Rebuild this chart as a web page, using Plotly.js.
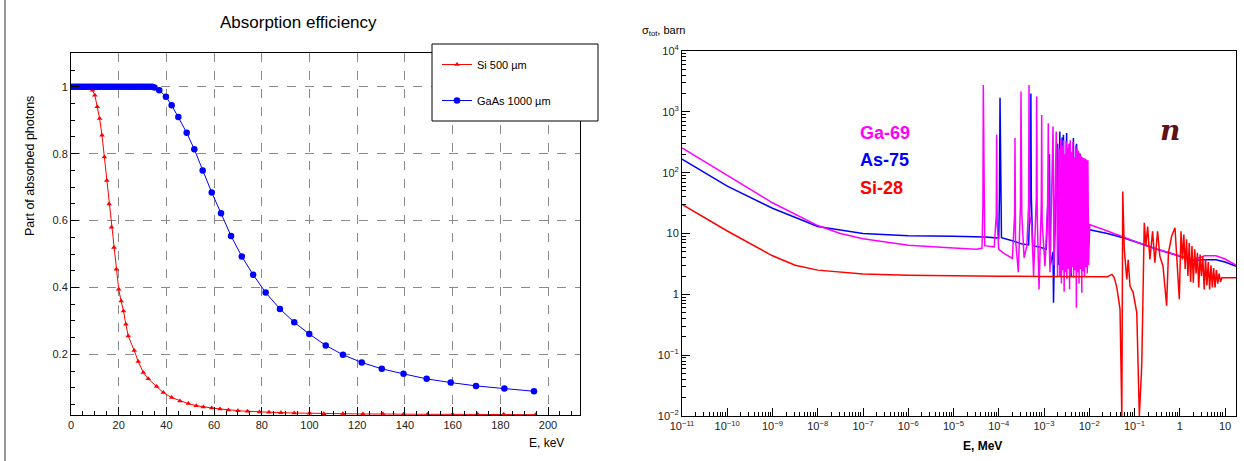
<!DOCTYPE html>
<html><head><meta charset="utf-8">
<script src="https://cdn.plot.ly/plotly-3.0.1.min.js"></script>
<style>html,body{margin:0;padding:0;background:#fff}#chart{width:1244px;height:461px}</style>
</head><body><div id="chart"></div>
<script>
// ---------- Left chart: absorption efficiency ----------
const siLabel = 'Si 500 µm';
const gaasLabel = 'GaAs 1000 µm';
const siE = [1,2,3,4,5,6,7,8,9,10,11,12,13,14,15,16,17,18,19,20,21,22,23,24,26.5,28.2,30.3,32.4,35.9,38.7,42.2,45.7,49.2,52.5,55.5,59,62.5,66,70,74,79,83,88,93.6,100,106,114,122.4,130.8,139.4,149.5,160,170.5,181.4,194.8];
const siFrac = [1,1,1,1,1,1,1,1,0.99,0.975,0.94,0.905,0.855,0.79,0.72,0.65,0.58,0.52,0.455,0.395,0.36,0.33,0.29,0.255,0.212,0.179,0.146,0.127,0.104,0.086,0.071,0.061,0.053,0.047,0.043,0.04,0.037,0.034,0.032,0.03,0.028,0.027,0.026,0.025,0.024,0.023,0.023,0.022,0.022,0.021,0.021,0.021,0.021,0.021,0.02];
const gaasE = [0,1,2,3,4,5,6,7,8,9,10,11,12,13,14,15,16,17,18,19,20,21,22,23,24,25,26,27,28,29,30,31,32,33,34,35,37,39.8,42.2,45,48.5,51.7,55.2,59,62.9,67.1,71.6,76.4,81.6,87.6,93.6,99.9,106.8,114,121.9,130.3,139.4,149.1,159.2,169.8,181.7,194.1];
const gaasFrac = [1,1,1,1,1,1,1,1,1,1,1,1,1,1,1,1,1,1,1,1,1,1,1,1,1,1,1,1,1,1,1,1,1,1,1,0.998,0.99,0.97,0.945,0.91,0.863,0.813,0.75,0.684,0.622,0.554,0.493,0.438,0.385,0.336,0.296,0.261,0.227,0.199,0.176,0.157,0.142,0.127,0.116,0.106,0.098,0.09];

// ---------- Right chart: total neutron cross sections (E in MeV as log10, sigma in barn) ----------
const ga69LogE = [-11,-10,-9,-8,-7.5,-7,-6.5,-6,-5,-4.5,-4.37,-4.35,-4.341,-4.33,-4.31,-4.1,-4.055,-4.046,-4.035,-4.0,-3.9,-3.7,-3.65,-3.641,-3.63,-3.567,-3.52,-3.508,-3.49,-3.44,-3.38,-3.34,-3.331,-3.32,-3.27,-3.23,-3.17,-3.162,-3.15,-3.11,-3.06,-3.051,-3.04,-2.978,-2.92,-2.905,-2.89,-2.867,-2.80,-2.78,-2.73,-2.70,
 -2.665,-2.65,-2.63,-2.615,-2.60,-2.585,-2.57,-2.555,-2.54,-2.525,-2.51,-2.495,-2.48,-2.465,-2.45,-2.435,-2.42,-2.405,-2.39,-2.375,-2.36,-2.345,-2.33,-2.315,-2.30,-2.285,-2.27,-2.255,-2.24,-2.225,-2.21,-2.195,-2.18,-2.165,-2.15,-2.135,-2.12,-2.105,-2.09,-2.075,-2.06,-2.045,-2.03,-2.015,
 -1.99,-1.6,-1.25,-0.9,-0.5,-0.07,0.3,0.55,0.8,1.0,1.25];
const ga69Sigma = [255,90,32,13.5,10,8.2,7.2,6.4,5.8,5.5,5.7,30,2770,30,6.3,6.0,20,420,15,5.5,4.8,3.9,20,370,8,2.3,30,2150,20,4.0,6.2,30,2770,20,13,2.0,40,1780,20,1.2,30,890,15,2.9,30,650,10,2.3,575,3,476,2.0,
 250,2.0,350,1.5,280,2.5,340,1.1,200,2.3,330,1.8,260,2.6,300,1.2,340,2.2,220,2.8,320,1.9,180,2.5,280,0.6,250,2.3,230,1.5,210,2.6,190,1.06,180,2.4,175,2.0,170,2.8,165,2.2,160,3,
 14,11,8.7,7,5.5,4.4,3.7,4.3,4.3,3.8,3.0];

const as75LogE = [-11,-10,-9,-8,-7,-6,-5,-4.3,-4.0,-3.985,-3.972,-3.96,-3.94,-3.7,-3.5,-3.34,-3.30,-3.29,-3.28,-3.25,-3.1,-2.95,-2.88,-2.86,-2.80,-2.79,-2.77,-2.70,-2.68,-2.65,-2.635,-2.60,-2.585,-2.57,-2.55,-2.50,-2.48,-2.42,-2.40,-2.35,-2.33,-2.28,-2.26,-2.20,-2.18,-2.10,-2.08,-2.03,
 -1.99,-1.6,-1.25,-0.9,-0.5,-0.07,0.3,0.55,0.8,1.0,1.25];
const as75Sigma = [167,60,26,13,10,9.2,9.0,8.8,8.4,40,1700,40,8.5,7.6,6.8,6.5,60,2000,40,6.3,6.0,5.5,200,3,5,0.73,5,300,3,476,2,380,3,420,2.5,450,3,300,2,370,3,300,2.5,200,3,150,4,12,
 11.5,10,8.5,7,5.5,4.4,3.6,3.7,3.7,3.4,2.9];

const si28LogE = [-11,-10,-9,-8.5,-8,-7,-6,-5,-4,-3,-2,-1.6,-1.5,-1.45,-1.39,-1.32,-1.28,-1.26,-1.226,-1.17,-1.14,-1.10,-1.03,-0.95,-0.893,-0.84,-0.784,-0.75,-0.71,-0.66,-0.60,-0.55,-0.49,-0.44,-0.37,-0.29,-0.25,-0.18,-0.105,-0.05,
 -0.01,0.028,0.06,0.09,0.12,0.15,0.18,0.21,0.24,0.27,0.30,0.33,0.36,0.39,0.42,0.45,0.48,0.51,0.54,0.57,0.60,0.63,0.66,0.69,0.72,0.75,0.78,0.81,0.84,0.87,0.90,0.93,1.25];
const si28Sigma = [30,11,4.3,3.0,2.5,2.15,2.05,2.0,1.98,1.97,1.95,1.95,2.13,1.9,1.29,0.57,0.01,49,5.5,1.76,3.7,1.37,1.07,0.5,0.01,0.067,15,6.2,13,3.75,10.9,3.3,10.9,4.25,2.9,0.65,4.8,9,12.4,2.9,
 0.83,10.9,3.75,9.6,2.6,8,2.0,7,1.6,6.2,1.55,5.5,2.2,4.8,1.3,4.5,2.0,4.2,1.2,3.8,1.4,3.4,1.2,3.0,1.3,2.7,1.3,2.5,1.5,2.2,1.6,1.88,1.88];

const xTickExp = [-11,-10,-9,-8,-7,-6,-5,-4,-3,-2,-1,0,1];
const yTickExp = [-2,-1,0,1,2,3,4];

// ---------- helpers ----------
const W = 1244, H = 461;
const px = v => v / W;
const py = v => 1 - v / H;
const pow10 = v => Math.pow(10, v);
const expLabel = e => e === 0 ? '1' : (e === 1 ? '10' : '10<sup>' + (e < 0 ? '\u2212' + (-e) : e) + '</sup>');
function minorVals(lo, hi) {
  const out = [];
  for (let d = lo; d <= hi; d++) for (let k = 2; k <= 9; k++) out.push(k * Math.pow(10, d));
  return out;
}
const FONT = 'Liberation Sans, Arial, sans-serif';
const tickFont = {family: FONT, size: 11, color: '#222'};

const traces = [
  {x: siE, y: siFrac, xaxis: 'x', yaxis: 'y', type: 'scatter', mode: 'lines+markers', name: siLabel,
   legendgroup: 'a', line: {color: '#ff0000', width: 1}, marker: {symbol: 'triangle-up', size: 5, color: '#ff0000'}},
  {x: gaasE, y: gaasFrac, xaxis: 'x', yaxis: 'y', type: 'scatter', mode: 'lines+markers', name: gaasLabel,
   legendgroup: 'b', line: {color: '#0000ff', width: 1}, marker: {symbol: 'circle', size: 6.5, color: '#0000ff'}},
  {x: as75LogE.map(pow10), y: as75Sigma, xaxis: 'x2', yaxis: 'y2', type: 'scatter', mode: 'lines', name: 'As-75',
   showlegend: false, line: {color: '#0000ff', width: 1.5}},
  {x: ga69LogE.map(pow10), y: ga69Sigma, xaxis: 'x2', yaxis: 'y2', type: 'scatter', mode: 'lines', name: 'Ga-69',
   showlegend: false, line: {color: '#ff00ff', width: 1.5}},
  {x: si28LogE.map(pow10), y: si28Sigma, xaxis: 'x2', yaxis: 'y2', type: 'scatter', mode: 'lines', name: 'Si-28',
   showlegend: false, line: {color: '#ff0000', width: 1.5}}
];

const baseAxis = {
  showline: true, linecolor: '#000', linewidth: 1, mirror: true, zeroline: false,
  ticks: 'inside', ticklen: 8, tickcolor: '#000', tickwidth: 1, tickfont: tickFont
};

function note(text, x, y, font, extra) {
  return Object.assign({text: text, xref: 'paper', yref: 'paper', x: px(x), y: py(y), showarrow: false,
    xanchor: 'center', yanchor: 'middle', font: font}, extra || {});
}

const layout = {
  width: W, height: H, margin: {l: 0, r: 0, t: 0, b: 0},
  paper_bgcolor: '#fff', plot_bgcolor: '#fff', showlegend: true,
  font: {family: FONT, color: '#000'},
  xaxis: Object.assign({}, baseAxis, {
    domain: [px(71), px(580)], anchor: 'y', range: [0, 213.4], tickmode: 'linear', tick0: 0, dtick: 20,
    showgrid: true, gridcolor: '#8a8a8a', griddash: 'dash', gridwidth: 1,
    minor: {dtick: 5, tick0: 0, ticks: 'inside', ticklen: 4, tickcolor: '#000', showgrid: false}
  }),
  yaxis: Object.assign({}, baseAxis, {
    domain: [py(415), py(53)], anchor: 'x', range: [0.019, 1.101], tickmode: 'linear', tick0: 0, dtick: 0.2,
    showgrid: true, gridcolor: '#8a8a8a', griddash: 'dash', gridwidth: 1,
    minor: {dtick: 0.05, tick0: 0, ticks: 'inside', ticklen: 4, tickcolor: '#000', showgrid: false}
  }),
  xaxis2: Object.assign({}, baseAxis, {
    type: 'log', domain: [px(682), px(1236)], anchor: 'y2', range: [-11, 1.243], showgrid: false,
    tickmode: 'array', tickvals: xTickExp.map(pow10), ticktext: xTickExp.map(expLabel),
    minor: {tickmode: 'array', tickvals: minorVals(-11, 1), ticks: 'inside', ticklen: 4, tickcolor: '#000', showgrid: false}
  }),
  yaxis2: Object.assign({}, baseAxis, {
    type: 'log', domain: [py(416), py(51)], anchor: 'x2', range: [-2, 4], showgrid: false,
    tickmode: 'array', tickvals: yTickExp.map(pow10), ticktext: yTickExp.map(expLabel),
    minor: {tickmode: 'array', tickvals: minorVals(-2, 3), ticks: 'inside', ticklen: 4, tickcolor: '#000', showgrid: false}
  }),
  legend: {
    x: px(437), y: py(50), xanchor: 'left', yanchor: 'top', bgcolor: 'rgba(0,0,0,0)', borderwidth: 0,
    font: {family: FONT, size: 11, color: '#000'}, traceorder: 'grouped', tracegroupgap: 17, itemwidth: 30
  },
  shapes: [
    {type: 'rect', xref: 'paper', yref: 'paper', x0: px(432), x1: px(598), y0: py(121), y1: py(44),
     line: {color: '#000', width: 1}, fillcolor: '#fff', layer: 'above'},
    {type: 'line', xref: 'paper', yref: 'paper', x0: px(5), x1: px(5), y0: 0, y1: 1,
     line: {color: '#999', width: 2}}
  ],
  annotations: [
    note('Absorption efficiency', 298, 22, {family: FONT, size: 17, color: '#000'}),
    note('Part of absorbed photons', 30, 166, {family: FONT, size: 12.5, color: '#000'}, {textangle: -90}),
    note('E, keV', 566, 443, {family: FONT, size: 12, color: '#000'}, {xanchor: 'right'}),
    note('\u03c3<sub>tot</sub>, barn', 640, 31, {family: FONT, size: 11, color: '#000'}, {xanchor: 'left'}),
    note('<b>E, MeV</b>', 982, 446, {family: FONT, size: 12, color: '#000'}),
    note('<b>Ga-69</b>', 858, 133, {family: FONT, size: 18, color: '#ff00ff'}, {xanchor: 'left'}),
    note('<b>As-75</b>', 858, 160, {family: FONT, size: 18, color: '#0000ff'}, {xanchor: 'left'}),
    note('<b>Si-28</b>', 858, 188, {family: FONT, size: 18, color: '#ff0000'}, {xanchor: 'left'}),
    note('<b><i>n</i></b>', 1170, 130, {family: 'DejaVu Serif, serif', size: 28, color: '#5a1414'})
  ]
};

Plotly.newPlot('chart', traces, layout, {displayModeBar: false, staticPlot: true});
</script></body></html>
